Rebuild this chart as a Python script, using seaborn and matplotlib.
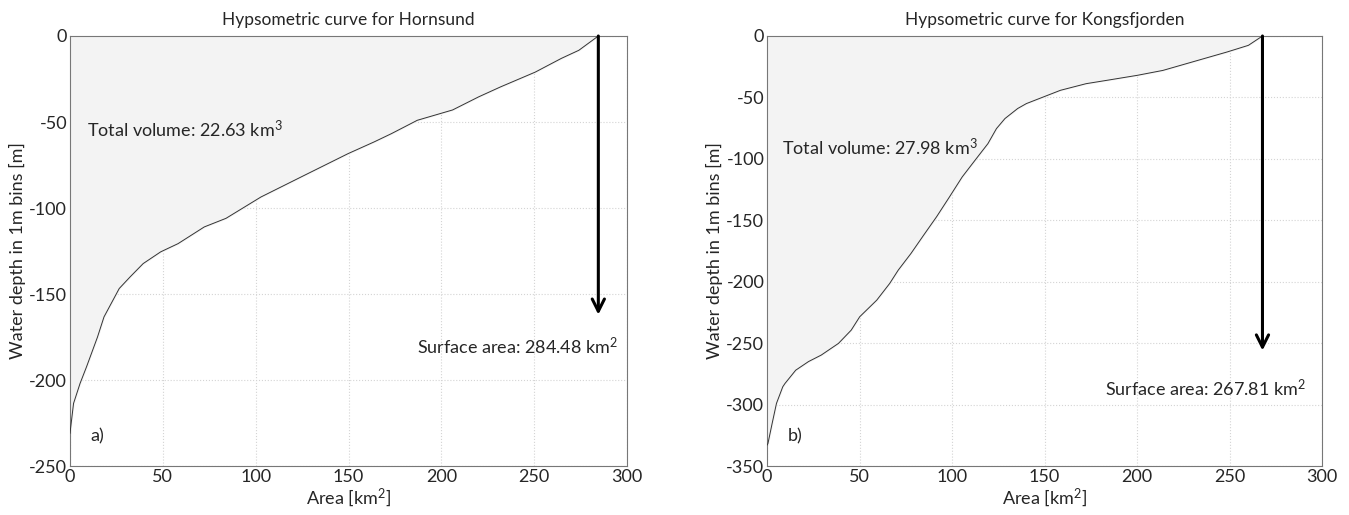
import numpy as np
import pandas as pd
import matplotlib
matplotlib.use("Agg")
import matplotlib.pyplot as plt
import seaborn as sns

# Hornsund hypsometric curve (area km2 vs depth m)
horn_area = [284.48, 274, 264.6, 250.5, 231.8, 220, 206, 187, 173, 163.7, 149.7,
             126.2, 102.8, 84, 72.3, 58.2, 48.8, 39.4, 32.4, 26.5, 18.3, 14.8,
             8.9, 5.4, 1.9, 0.2, 0]
horn_depth = [0, -8.3, -13, -21, -29.6, -35.4, -43, -49, -56.8, -61.6, -68.4,
              -81, -93.6, -106, -111, -120.7, -125.5, -132.3, -140, -146.8, -163.3, -175,
              -192.3, -202, -213.6, -229, -231]

# Kongsfjorden hypsometric curve
kong_area = [267.81, 260.2, 248.7, 230.2, 214, 200.2, 184, 172.5, 158.6, 149.4, 140.2,
             135.5, 128.6, 124, 119.4, 112.5, 105.5, 98.6, 91.7, 84.7, 77.8, 70.9,
             66.3, 59.3, 50.1, 45.5, 38.6, 29.3, 22.4, 15.5, 9.7, 8.5, 5.1, 2.8, 0.5, 0]
kong_depth = [0, -7.6, -13, -21, -28, -32, -36, -38.8, -44.2, -49.6, -55,
              -59, -67.2, -75.4, -87.6, -101, -114.7, -131, -147, -162, -177, -190.6,
              -201.4, -215, -228.5, -239.4, -250.2, -259.7, -265, -272, -282.8, -285.5, -299, -315, -331.6, -333]

titles = ["Hypsometric curve for Hornsund", "Hypsometric curve for Kongsfjorden"]
volumes = ["Total volume: 22.63 km$^3$", "Total volume: 27.98 km$^3$"]
surfaces = ["Surface area: 284.48 km$^2$", "Surface area: 267.81 km$^2$"]
panel_labels = ["a)", "b)"]
surface_area = [284.48, 267.81]
arrow_tip = [-162, -256]
ymin = [-250, -350]

sns.set_style("white")
plt.rcParams['font.family'] = ['Lato', 'DejaVu Sans']
plt.rcParams['axes.unicode_minus'] = False
plt.rcParams['mathtext.default'] = 'regular'

fig = plt.figure(figsize=(13.49, 5.15), dpi=100)
ax1 = fig.add_axes([0.0519, 0.0951, 0.413, 0.835])
ax2 = fig.add_axes([0.5686, 0.0951, 0.4114, 0.835])

data = [(horn_area, horn_depth), (kong_area, kong_depth)]
vol_pos = [(9, -54.5), (7.9, -91)]
surf_pos = [(187, -180.7), (182.9, -286.8)]
lab_pos = [(11, -233), (11, -326)]

for i, ax in enumerate([ax1, ax2]):
    area, depth = data[i]
    df = pd.DataFrame({"area": area, "depth": depth})
    ax.fill_betweenx(df["depth"], 0, df["area"], color="#f3f3f3", zorder=1)
    sns.lineplot(data=df, x="area", y="depth", sort=False, estimator=None,
                 color="#333333", linewidth=0.7, ax=ax, zorder=3)
    ax.annotate("", xy=(surface_area[i], arrow_tip[i]), xytext=(surface_area[i], 0),
                arrowprops=dict(arrowstyle="->", color="black", lw=2.2,
                                mutation_scale=22, shrinkA=0, shrinkB=0), zorder=4)
    ax.text(*vol_pos[i], volumes[i], fontsize=13, va="center", ha="left")
    ax.text(*surf_pos[i], surfaces[i], fontsize=13, va="center", ha="left")
    ax.text(*lab_pos[i], panel_labels[i], fontsize=13, va="center", ha="left")
    ax.set_xlim(0, 300)
    ax.set_ylim(ymin[i], 0)
    ax.set_xticks(np.arange(0, 301, 50))
    ax.set_yticks(np.arange(ymin[i], 1, 50))
    ax.grid(True, color="#d4d4d4", linestyle=":", linewidth=0.8, zorder=0)
    ax.set_axisbelow(True)
    for s in ax.spines.values():
        s.set_color("#777777")
        s.set_linewidth(0.8)
    ax.tick_params(labelsize=13, direction="in", length=3, color="#777777", pad=2)
    ax.set_xlabel("Area [km$^2$]", fontsize=13, labelpad=1)
    ax.set_ylabel("Water depth in 1m bins [m]", fontsize=13, labelpad=2)
    ax.set_title(titles[i], fontsize=12.5, pad=8)

fig.savefig("out.png", dpi=100)
